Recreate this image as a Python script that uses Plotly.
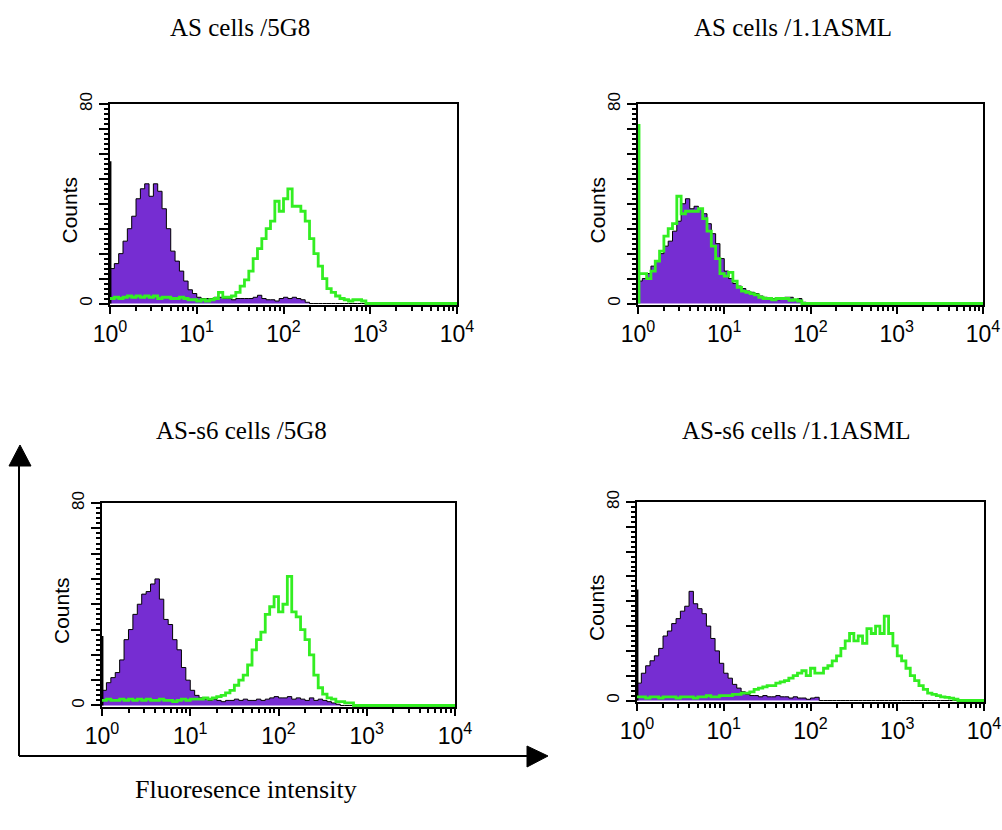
import numpy as np
import plotly.graph_objects as go

# ---------------- data ----------------
# 80 logarithmic channels (20 per decade) spanning 10^0 .. 10^4
N_BINS = 80
titles = ["AS cells /5G8", "AS cells /1.1ASML", "AS-s6 cells /5G8", "AS-s6 cells /1.1ASML"]
x_tick_values = [1, 10, 100, 1000, 10000]
x_tick_labels = ["10<sup>0</sup>", "10<sup>1</sup>", "10<sup>2</sup>", "10<sup>3</sup>", "10<sup>4</sup>"]
y_tick_values = [0, 10, 20, 30, 40, 50, 60, 70, 80]
y_tick_labels = ["0", "", "", "", "", "", "", "", "80"]
y_axis_title = "Counts"
x_axis_title = "Fluoresence intensity"

# isotype control (purple filled) and antibody (green line), counts per channel
as_5g8_isotype = [14, 16, 20, 25, 30, 35, 42, 46, 48, 43,
                  48, 45, 38, 30, 21, 17, 13, 9, 5.5, 4,
                  2.5, 2, 2, 2, 2.5, 2.5, 2, 2, 1.5, 2,
                  2, 2, 2, 2.5, 3.3, 2, 1.5, 1.5, 1, 2,
                  2.5, 2, 2.5, 2, 1.5, 0.5, 0, 0, 0, 0] + [0] * 30
as_5g8_antibody = [2, 2.5, 2, 2.5, 3, 2.5, 3, 2.5, 3, 2.5,
                   3, 2, 2.5, 2.5, 2, 2, 2.5, 2, 1.5, 1.5,
                   1, 1.5, 1, 1.5, 2, 4.5, 2.5, 2.5, 3, 4.5,
                   7, 9.5, 13, 18, 22, 26, 30, 33, 41, 37,
                   42, 46, 39, 39, 37, 33, 26, 20, 15, 10,
                   6, 4.5, 3, 2, 1.5, 1, 1.5, 1.5, 1, 0] + [0] * 20
as_asml_isotype = [9, 10, 12, 15, 17, 20, 23, 25, 29, 33,
                   40, 42, 38, 39, 38, 36, 32, 28, 24, 18,
                   13, 10, 8, 7, 6, 5, 4.5, 4, 3, 2.5,
                   2, 2, 1.5, 2, 2.5, 2.5, 1.5, 2, 0.5, 0] + [0] * 40
as_asml_antibody = [12, 12, 10, 13, 17, 21, 27, 30, 32, 43,
                    36, 37, 37, 37, 38, 34, 29, 23, 18, 12,
                    11, 12.5, 9, 6.5, 5, 4.5, 4, 3.5, 2.5, 2,
                    2, 1.5, 2, 2, 2, 1.3, 1.5, 1, 0, 0] + [0] * 40
s6_5g8_isotype = [6, 9, 11, 13, 18, 26, 30, 36, 40, 44,
                  45, 48, 50, 42, 34, 32, 26, 22, 15, 10,
                  6, 4, 3, 2.5, 2, 2.5, 2, 1.5, 2, 2,
                  2.5, 2, 2.5, 2, 2, 2.5, 2, 2.5, 3, 3.5,
                  3, 3, 3.5, 2.5, 3, 2.5, 2, 3, 2, 2.5,
                  2, 1.5, 1, 0.5, 0, 0, 0, 0, 0, 0] + [0] * 20
s6_5g8_antibody = [2, 2.5, 2, 2, 2.5, 2, 2.5, 2, 2.5, 2,
                   2.5, 2, 2, 2.5, 2, 2, 1.5, 2, 2.5, 2,
                   2.5, 2.5, 2.5, 3, 2.5, 3, 3.5, 4, 5, 6,
                   8, 10, 12, 16, 22, 26, 29, 36, 39, 43,
                   37, 40, 51, 37, 35, 30, 26, 20, 12, 7,
                   4.5, 3, 2.5, 1.5, 1.5, 1, 1, 0, 0, 0] + [0] * 20
s6_asml_isotype = [7, 11, 14, 16, 18, 21, 26, 28, 31, 33,
                   36, 38, 44, 39, 37, 35, 30, 25, 20, 15,
                   11, 9, 6.5, 5, 3.5, 2.5, 2, 2, 1.5, 2,
                   1.5, 1.5, 2, 1.5, 1.5, 1, 1.5, 1, 1, 0.5,
                   1, 1.3, 0, 0, 0, 0, 0, 0, 0, 0] + [0] * 30
s6_asml_antibody = [1.5, 1.5, 1, 1.5, 1.5, 1, 1.5, 1.5, 1.5, 1,
                    1.5, 1.5, 1.5, 1, 1.5, 1.5, 2, 1.5, 1.5, 2,
                    2, 2, 2.5, 2.5, 3, 3, 3.5, 4.5, 5, 5.5,
                    6, 6, 7, 7.5, 8, 9, 10, 11, 12, 10,
                    13, 11, 11, 13, 14, 16, 18, 21, 24, 27,
                    24, 26, 23, 29, 27, 30, 27, 34, 27, 22,
                    18, 16, 13, 10, 8, 6, 4.5, 3, 2.5, 2,
                    1.5, 1.3, 1, 0.5, 0, 0, 0, 0, 0, 0]

# first-channel (x = 10^0) pile-up spikes
first_channel_isotype = [57, 0, 27.5, 44.7]
first_channel_antibody = [0, 72, 0, 0]

isotype_series = [as_5g8_isotype, as_asml_isotype, s6_5g8_isotype, s6_asml_isotype]
antibody_series = [as_5g8_antibody, as_asml_antibody, s6_5g8_antibody, s6_asml_antibody]

# ---------------- styling / layout ----------------
W, H = 1002, 830
PURPLE = "#762DD2"
GREEN = "#33EE22"
# panel frames in pixels: (left, right, top, bottom)
panel_px = [(110, 457, 104, 305), (638, 983, 104, 305),
            (102, 455, 503, 707), (637, 984, 502, 702)]
title_px = [(240, 27), (793, 27), (241, 430), (796, 430)]

edges = np.logspace(0, 4, N_BINS + 1)
first_channel_x = 10 ** (0.5 * 4 / 256)

fig = go.Figure()
layout = dict(width=W, height=H, margin=dict(l=0, r=0, t=0, b=0, pad=0),
              paper_bgcolor="white", plot_bgcolor="white", showlegend=False,
              autosize=False)

annotations = []
minor_x = [m * 10 ** d for d in range(4) for m in range(2, 10)]

for i in range(4):
    xa = "x" if i == 0 else f"x{i+1}"
    ya = "y" if i == 0 else f"y{i+1}"
    iso = list(isotype_series[i])
    ab = list(antibody_series[i])
    fig.add_trace(go.Scatter(x=edges, y=iso + [iso[-1]], mode="lines", line_shape="hv",
                             fill="tozeroy", fillcolor=PURPLE,
                             line=dict(color="black", width=1), xaxis=xa, yaxis=ya))
    if first_channel_isotype[i] > 0:
        fig.add_trace(go.Scatter(x=[first_channel_x, first_channel_x], y=[0, first_channel_isotype[i]],
                                 mode="lines", line=dict(color="black", width=1.5), xaxis=xa, yaxis=ya))
    fig.add_trace(go.Scatter(x=edges, y=ab + [ab[-1]], mode="lines", line_shape="hv",
                             line=dict(color=GREEN, width=2.8), xaxis=xa, yaxis=ya))
    if first_channel_antibody[i] > 0:
        fig.add_trace(go.Scatter(x=[first_channel_x, first_channel_x], y=[0, first_channel_antibody[i]],
                                 mode="lines", line=dict(color=GREEN, width=3.5), xaxis=xa, yaxis=ya))

    l, r, t, b = panel_px[i]
    xkey = "xaxis" if i == 0 else f"xaxis{i+1}"
    ykey = "yaxis" if i == 0 else f"yaxis{i+1}"
    layout[xkey] = dict(domain=[l / W, r / W], anchor=ya, type="log", range=[0, 4],
                        automargin=False,
                        showgrid=False, zeroline=False, showline=True, mirror=True,
                        linecolor="black", linewidth=2,
                        tickmode="array", tickvals=x_tick_values, ticktext=x_tick_labels,
                        ticks="outside", ticklen=7, tickwidth=2, tickcolor="black",
                        tickfont=dict(family="Liberation Sans, Arial", size=23, color="black"),
                        minor=dict(tickmode="array", tickvals=minor_x, ticks="outside",
                                   ticklen=4, tickwidth=2, tickcolor="black"),
                        fixedrange=True)
    layout[ykey] = dict(domain=[1 - b / H, 1 - t / H], anchor=xa, range=[-0.6, 80],
                        automargin=False,
                        showgrid=False, zeroline=False, showline=True, mirror=True,
                        linecolor="black", linewidth=2,
                        tickmode="array", tickvals=y_tick_values, ticktext=y_tick_labels,
                        ticks="outside", ticklen=9, tickwidth=1.5, tickcolor="black",
                        tickangle=-90,
                        tickfont=dict(family="Liberation Sans, Arial", size=17, color="black"),
                        minor=dict(tickmode="linear", tick0=0, dtick=2, ticks="outside",
                                   ticklen=4, tickwidth=1.5, tickcolor="black"),
                        fixedrange=True)
    tx, ty = title_px[i]
    annotations.append(dict(text=titles[i], x=tx / W, y=1 - ty / H, xref="paper", yref="paper",
                            xanchor="center", yanchor="middle", showarrow=False,
                            font=dict(family="Liberation Serif, Times New Roman", size=25, color="black")))
    annotations.append(dict(text=y_axis_title, x=(l - 41) / W, y=1 - ((t + b) / 2 + 6) / H,
                            xref="paper", yref="paper", xanchor="center", yanchor="middle",
                            textangle=-90, showarrow=False,
                            font=dict(family="Liberation Sans, Arial", size=21, color="black")))

annotations.append(dict(text=x_axis_title, x=246 / W, y=1 - 789 / H, xref="paper", yref="paper",
                        xanchor="center", yanchor="middle", showarrow=False,
                        font=dict(family="Liberation Serif, Times New Roman", size=26, color="black")))


def P(x, y):
    return f"{x / W:.5f},{1 - y / H:.5f}"


shapes = [
    dict(type="line", xref="paper", yref="paper", x0=19 / W, x1=19 / W, y0=1 - 756 / H, y1=1 - 462 / H,
         line=dict(color="black", width=2)),
    dict(type="line", xref="paper", yref="paper", x0=19 / W, x1=530 / W, y0=1 - 756 / H, y1=1 - 756 / H,
         line=dict(color="black", width=2)),
    dict(type="path", xref="paper", yref="paper", path=f"M {P(20, 445)} L {P(9, 466)} L {P(31, 466)} Z",
         fillcolor="black", line=dict(color="black", width=1)),
    dict(type="path", xref="paper", yref="paper", path=f"M {P(548, 756)} L {P(527, 746)} L {P(527, 767)} Z",
         fillcolor="black", line=dict(color="black", width=1)),
]

layout["annotations"] = annotations
layout["shapes"] = shapes
fig.update_layout(**layout)
fig.write_html("out.html", config={"displayModeBar": False},
               post_script="document.body.style.margin='0';document.body.style.padding='0';")
